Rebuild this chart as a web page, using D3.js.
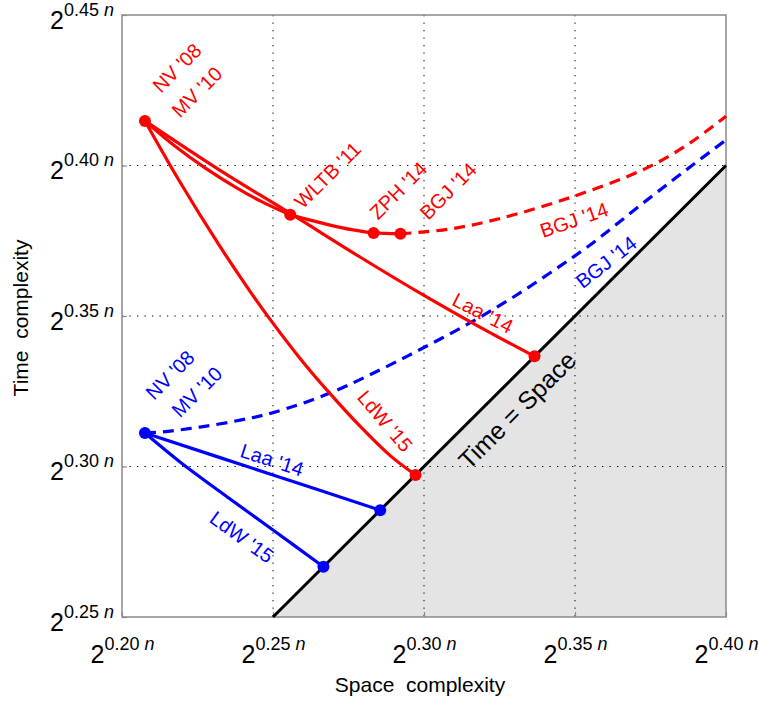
<!DOCTYPE html>
<html><head><meta charset="utf-8">
<script src="https://cdn.jsdelivr.net/npm/d3@7"></script>
<style>
body{margin:0;background:#fff;}
svg text{font-family:"Liberation Sans",Arial,Helvetica,sans-serif;}
</style>
</head><body>
<svg id="chart" width="759" height="702"></svg>
<script>
// ---- axes ----
const xTicks = [0.20, 0.25, 0.30, 0.35, 0.40];
const yTicks = [0.25, 0.30, 0.35, 0.40, 0.45];
const xTickLabels = ["0.20", "0.25", "0.30", "0.35", "0.40"];
const yTickLabels = ["0.25", "0.30", "0.35", "0.40", "0.45"];
const xTitle = "Space  complexity";
const yTitle = "Time  complexity";

// ---- red series (space, time) exponents ----
const redLaa  = [[0.2076,0.4148],[0.2318,0.3988],[0.2560,0.3839],[0.2788,0.3696],[0.2997,0.3570],[0.3185,0.3463],[0.3366,0.3366]];
const redWLTB = [[0.2076,0.4148],[0.2175,0.4065],[0.2275,0.3992],[0.2374,0.3929],[0.2464,0.3879],[0.2557,0.3836]];
const redZPH  = [[0.2557,0.3836],[0.2689,0.3802],[0.2765,0.3786],[0.2833,0.3776],[0.2922,0.3773]];
const redBGJ  = [[0.2922,0.3773],[0.3086,0.3789],[0.3252,0.3824],[0.3500,0.3899],[0.3738,0.3992],[0.3881,0.4075],[0.4000,0.4164]];
const redLdW  = [[0.2076,0.4148],[0.2192,0.3945],[0.2318,0.3741],[0.2424,0.3582],[0.2480,0.3503],[0.2589,0.3360],[0.2689,0.3242],[0.2788,0.3134],[0.2887,0.3037],[0.2972,0.2972]];
const redDots = [[0.2076,0.4148],[0.2557,0.3836],[0.2833,0.3776],[0.2922,0.3773],[0.3366,0.3366],[0.2972,0.2972]];

// ---- blue series ----
const blueBGJ = [[0.2076,0.3111],[0.2136,0.3115],[0.2258,0.3131],[0.2391,0.3154],[0.2500,0.3179],[0.2689,0.3244],[0.2854,0.3321],[0.3003,0.3397],[0.3152,0.3477],[0.3285,0.3556],[0.3417,0.3643],[0.3550,0.3736],[0.3738,0.3885],[0.3881,0.3995],[0.4000,0.4085]];
const blueLaa = [[0.2076,0.3111],[0.2500,0.2972],[0.2855,0.2855]];
const blueLdW = [[0.2076,0.3111],[0.2192,0.3015],[0.2358,0.2892],[0.2500,0.2789],[0.2667,0.2667]];
const blueDots = [[0.2076,0.3111],[0.2855,0.2855],[0.2667,0.2667]];

// ---- Time = Space ----
const diagonal = [[0.25,0.25],[0.40,0.40]];
const infeasible = [[0.25,0.25],[0.40,0.25],[0.40,0.40]];

// ---- annotations: text, anchor (space,time), rotation ----
const labelTexts = ["NV '08","MV '10","WLTB '11","ZPH '14","BGJ '14","BGJ '14","Laa '14","LdW '15",
                    "NV '08","MV '10","BGJ '14","Laa '14","LdW '15","Time = Space"];
const labelPos = [[0.2182,0.4324],[0.2248,0.4244],[0.2681,0.3968],[0.2915,0.3917],[0.3080,0.3915],[0.3497,0.3819],[0.3195,0.3510],[0.2871,0.3151],
                  [0.2159,0.3304],[0.2248,0.3248],[0.3603,0.3679],[0.2497,0.3022],[0.2397,0.2766],[0.3308,0.3188]];
const labelRot = [-45,-45,-45,-45,-45,-19,27,50,-45,-45,-38,18,36,-45];
const labelSeries = ["r","r","r","r","r","r","r","r","b","b","b","b","b","k"];

const colors = {r:"#ff0000", b:"#0000ff", k:"#000000"};

const svg = d3.select("#chart");
const x = d3.scaleLinear().domain([0.20,0.40]).range([122,726]);
const y = d3.scaleLinear().domain([0.25,0.45]).range([617,15]);

// shaded region
svg.append("path")
  .attr("d", d3.line().x(d=>x(d[0])).y(d=>y(d[1]))(infeasible) + "Z")
  .attr("fill", "#e4e4e4");

// grid
const grid = svg.append("g");
grid.selectAll("line.gx").data(xTicks.slice(1,-1)).join("line")
  .attr("x1", d=>x(d)).attr("x2", d=>x(d)).attr("y1", y(0.45)).attr("y2", y(0.25))
  .attr("stroke", "#000").attr("stroke-width", 1).attr("stroke-dasharray", "1.3,6.2");
grid.selectAll("line.gy").data(yTicks.slice(1,-1)).join("line")
  .attr("y1", d=>y(d)).attr("y2", d=>y(d)).attr("x1", x(0.20)).attr("x2", x(0.40))
  .attr("stroke", "#000").attr("stroke-width", 1).attr("stroke-dasharray", "1.3,6.2");

// axes
const frameColor = "#8a8a8a";
function styleAxis(g){
  g.select(".domain").remove();
  g.selectAll(".tick line").attr("stroke", frameColor).attr("stroke-width", 1.2);
}
const gx = svg.append("g").attr("transform", `translate(0,${y(0.25)})`)
  .call(d3.axisBottom(x).tickValues(xTicks).tickSizeInner(-5).tickSizeOuter(0));
styleAxis(gx);
gx.selectAll(".tick text").each(function(d,i){
  const t = d3.select(this).text(null).attr("y", 46).attr("dy", null)
    .attr("text-anchor","middle").attr("fill","#000").attr("font-size", null);
  t.append("tspan").attr("font-size", 25).text("2");
  t.append("tspan").attr("font-size", 18).attr("dy", -13).text(xTickLabels[i]);
  t.append("tspan").attr("font-size", 18).attr("font-style","italic").text("\u00a0n");
});
const gy = svg.append("g").attr("transform", `translate(${x(0.20)},0)`)
  .call(d3.axisLeft(y).tickValues(yTicks).tickSizeInner(-5).tickSizeOuter(0));
styleAxis(gy);
gy.selectAll(".tick text").each(function(d,i){
  const t = d3.select(this).text(null).attr("x", -8).attr("y", 13).attr("dy", null)
    .attr("text-anchor","end").attr("fill","#000").attr("font-size", null);
  t.append("tspan").attr("font-size", 25).text("2");
  t.append("tspan").attr("font-size", 18).attr("dy", -13).text(yTickLabels[i]);
  t.append("tspan").attr("font-size", 18).attr("font-style","italic").text("\u00a0n");
});

// frame
svg.append("rect").attr("x", x(0.20)).attr("y", y(0.45))
  .attr("width", x(0.40)-x(0.20)).attr("height", y(0.25)-y(0.45))
  .attr("fill","none").attr("stroke", frameColor).attr("stroke-width", 1.5);

// diagonal
const line = d3.line().x(d=>x(d[0])).y(d=>y(d[1]));
const curve = d3.line().x(d=>x(d[0])).y(d=>y(d[1])).curve(d3.curveCatmullRom.alpha(0.5));
svg.append("path").attr("d", line(diagonal)).attr("stroke","#000").attr("stroke-width",3).attr("fill","none");

// curves
const curves = [
  {d: blueBGJ, c: colors.b, dash: "11,7"},
  {d: blueLaa, c: colors.b},
  {d: blueLdW, c: colors.b},
  {d: redBGJ, c: colors.r, dash: "11,7"},
  {d: redLaa, c: colors.r},
  {d: redWLTB, c: colors.r},
  {d: redZPH, c: colors.r},
  {d: redLdW, c: colors.r}
];
svg.append("g").selectAll("path").data(curves).join("path")
  .attr("d", s=>curve(s.d)).attr("stroke", s=>s.c).attr("stroke-width", 3.2)
  .attr("fill","none").attr("stroke-dasharray", s=>s.dash || null);

// dots
svg.append("g").selectAll("circle").data(redDots).join("circle")
  .attr("cx", d=>x(d[0])).attr("cy", d=>y(d[1])).attr("r", 6).attr("fill", colors.r);
svg.append("g").selectAll("circle").data(blueDots).join("circle")
  .attr("cx", d=>x(d[0])).attr("cy", d=>y(d[1])).attr("r", 6).attr("fill", colors.b);

// labels
svg.append("g").selectAll("text").data(labelTexts).join("text")
  .attr("transform", (d,i)=>`translate(${x(labelPos[i][0])},${y(labelPos[i][1])}) rotate(${labelRot[i]})`)
  .attr("text-anchor","middle").attr("dominant-baseline","central")
  .attr("font-size", (d,i)=> labelSeries[i]==="k" ? 25 : 20)
  .attr("fill", (d,i)=>colors[labelSeries[i]])
  .style("white-space","pre")
  .text(d=>d);

// axis titles
svg.append("text").attr("x", 420).attr("y", 692).attr("text-anchor","middle")
  .attr("font-size", 21).style("white-space","pre").text(xTitle);
svg.append("text").attr("transform","translate(28,318) rotate(-90)").attr("text-anchor","middle")
  .attr("font-size", 21).style("white-space","pre").text(yTitle);
</script>
</body></html>
